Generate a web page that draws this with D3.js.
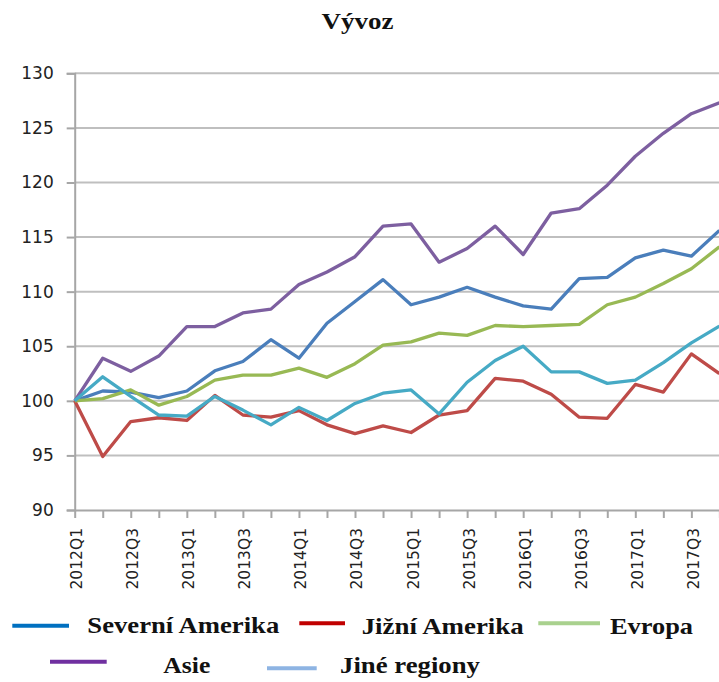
<!DOCTYPE html>
<html>
<head>
<meta charset="utf-8">
<script src="https://cdn.jsdelivr.net/npm/d3@7"></script>
<style>
  html, body { margin: 0; padding: 0; background: #fff; }
  svg { display: block; }
</style>
</head>
<body>
<script>
const quarters = [
  "2012Q1","2012Q2","2012Q3","2012Q4",
  "2013Q1","2013Q2","2013Q3","2013Q4",
  "2014Q1","2014Q2","2014Q3","2014Q4",
  "2015Q1","2015Q2","2015Q3","2015Q4",
  "2016Q1","2016Q2","2016Q3","2016Q4",
  "2017Q1","2017Q2","2017Q3","2017Q4"
];
const tickLabels = quarters.filter((q, i) => i % 2 === 0);
const yTicks = [90, 95, 100, 105, 110, 115, 120, 125, 130];

const severniAmerika = [100, 100.9, 100.8, 100.3, 100.9, 102.75, 103.6, 105.6, 103.9, 107.1, 109.1, 111.1,
  108.8, 109.5, 110.4, 109.5, 108.7, 108.4, 111.2, 111.3, 113.1, 113.8, 113.25, 115.6];
const jizniAmerika = [100, 94.9, 98.1, 98.45, 98.2, 100.5, 98.7, 98.5, 99.1, 97.8, 97.0, 97.7,
  97.1, 98.7, 99.1, 102.05, 101.8, 100.6, 98.5, 98.4, 101.5, 100.8, 104.3, 102.5];
const evropa = [100, 100.2, 101.0, 99.6, 100.4, 101.9, 102.35, 102.35, 103.0, 102.15, 103.4, 105.1,
  105.4, 106.2, 106.0, 106.9, 106.8, 106.9, 107.0, 108.8, 109.5, 110.75, 112.1, 114.1];
const asie = [100, 103.9, 102.7, 104.1, 106.8, 106.8, 108.05, 108.4, 110.65, 111.8, 113.2, 116.0,
  116.2, 112.7, 113.95, 116.0, 113.4, 117.2, 117.6, 119.75, 122.4, 124.5, 126.3, 127.3];
const jineRegiony = [100, 102.2, 100.4, 98.7, 98.6, 100.4, 99.15, 97.8, 99.4, 98.2, 99.76, 100.7,
  101.0, 98.8, 101.7, 103.7, 105.0, 102.65, 102.65, 101.6, 101.9, 103.5, 105.3, 106.85];

const seriesNames = ["Severní Amerika", "Jižní Amerika", "Evropa", "Asie", "Jiné regiony"];
const seriesValues = [severniAmerika, jizniAmerika, evropa, asie, jineRegiony];
const lineColors = ["#4A7EBB", "#BE4B48", "#98B954", "#7D5FA0", "#46AAC5"];
const legendColors = ["#0070C0", "#C00000", "#A9D18E", "#7030A0", "#8EB4E3"];

const W = 719, H = 682;
const svg = d3.select("body").append("svg").attr("width", W).attr("height", H);

const x = d3.scalePoint().domain(quarters).range([74.7, 719.4]);
const y = d3.scaleLinear().domain([90, 130]).range([510, 73.3]);

// title
svg.append("text")
  .attr("x", 357.5).attr("y", 29)
  .attr("text-anchor", "middle")
  .attr("font-family", "Liberation Serif, Times New Roman, serif")
  .attr("font-weight", "bold")
  .attr("font-size", 24)
  .attr("textLength", 72).attr("lengthAdjust", "spacingAndGlyphs")
  .attr("fill", "#111")
  .text("Vývoz");

// gridlines
svg.append("g").selectAll("line")
  .data(yTicks.filter(v => v > 90))
  .join("line")
  .attr("x1", 74.7).attr("x2", W)
  .attr("y1", d => y(d)).attr("y2", d => y(d))
  .attr("stroke", "#BFBFBF").attr("stroke-width", 2);

// y axis
const yAxis = d3.axisLeft(y).tickValues(yTicks).tickSize(8).tickPadding(13).tickFormat(d3.format("d"));
const gy = svg.append("g").attr("transform", "translate(74.7,0)").call(yAxis);
gy.select(".domain").attr("stroke", "#A6A6A6").attr("stroke-width", 2);
gy.selectAll(".tick line").attr("stroke", "#A6A6A6").attr("stroke-width", 2);
gy.selectAll(".tick text")
  .attr("font-family", "DejaVu Sans, Verdana, sans-serif")
  .attr("font-size", 17).attr("fill", "#222");

// x axis
const xAxis = d3.axisBottom(x).tickSize(8).tickSizeOuter(0).tickFormat(d => tickLabels.includes(d) ? d : "");
const gx = svg.append("g").attr("transform", "translate(0,510)").call(xAxis);
gx.select(".domain").attr("stroke", "#A6A6A6").attr("stroke-width", 2);
gx.selectAll(".tick line").attr("stroke", "#A6A6A6").attr("stroke-width", 2);
gx.selectAll(".tick text")
  .attr("font-family", "DejaVu Sans, Verdana, sans-serif")
  .attr("font-size", 15.5).attr("fill", "#222")
  .attr("text-anchor", "end")
  .attr("dy", "0.35em")
  .attr("transform", "translate(1.5,18) rotate(-90)")
  .attr("x", 0).attr("y", 0);

// lines
const line = d3.line().x((d, i) => x(quarters[i])).y(d => y(d));
svg.append("g").selectAll("path")
  .data(seriesValues)
  .join("path")
  .attr("d", d => line(d))
  .attr("fill", "none")
  .attr("stroke", (d, i) => lineColors[i])
  .attr("stroke-width", 3.3)
  .attr("stroke-linejoin", "round");

// legend
const legendItems = [
  { x1: 12.3, x2: 69, ly: 625.7, tx: 87.3, ty: 633, tw: 192 },
  { x1: 299.3, x2: 345, ly: 623.3, tx: 361.7, ty: 634, tw: 162 },
  { x1: 538.3, x2: 600, ly: 623.3, tx: 610, ty: 634, tw: 83 },
  { x1: 50, x2: 106.7, ly: 661.7, tx: 163.3, ty: 673, tw: 47 },
  { x1: 267, x2: 316.7, ly: 668.3, tx: 340, ty: 673, tw: 140 }
];
const lg = svg.append("g").selectAll("g").data(legendItems).join("g");
lg.append("line")
  .attr("x1", d => d.x1).attr("x2", d => d.x2)
  .attr("y1", d => d.ly).attr("y2", d => d.ly)
  .attr("stroke", (d, i) => legendColors[i]).attr("stroke-width", 4);
lg.append("text")
  .attr("x", d => d.tx).attr("y", d => d.ty)
  .attr("font-family", "Liberation Serif, Times New Roman, serif")
  .attr("font-weight", "bold").attr("font-size", 23)
  .attr("textLength", d => d.tw).attr("lengthAdjust", "spacingAndGlyphs")
  .attr("fill", "#111")
  .text((d, i) => seriesNames[i]);
</script>
</body>
</html>
